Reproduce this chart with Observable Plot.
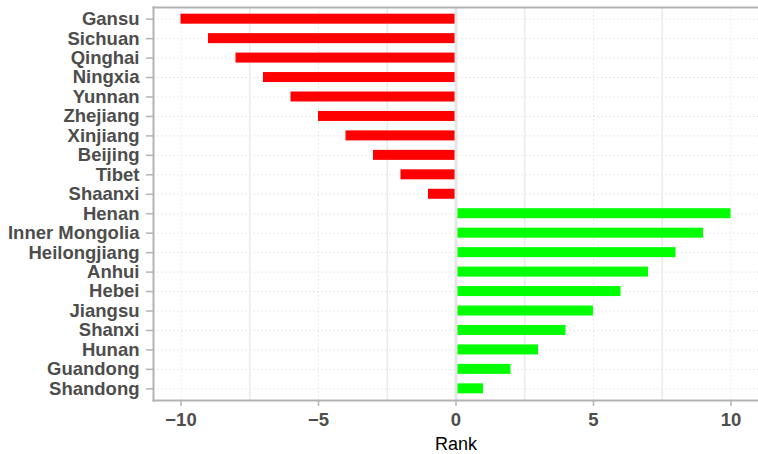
<!DOCTYPE html>
<html>
<head>
<meta charset="utf-8">
<script src="https://cdn.jsdelivr.net/npm/d3@7"></script>
<script src="https://cdn.jsdelivr.net/npm/@observablehq/plot@0.6"></script>
<style>
  html, body { margin: 0; padding: 0; background: #fff; overflow: hidden; }
  #chart svg { display: block; }
</style>
</head>
<body>
<div id="chart"></div>
<script>
const provinces = ["Gansu","Sichuan","Qinghai","Ningxia","Yunnan","Zhejiang","Xinjiang","Beijing","Tibet","Shaanxi",
  "Henan","Inner Mongolia","Heilongjiang","Anhui","Hebei","Jiangsu","Shanxi","Hunan","Guandong","Shandong"];
const ranks = [-10,-9,-8,-7,-6,-5,-4,-3,-2,-1,10,9,8,7,6,5,4,3,2,1];
const xTicks = [-10,-5,0,5,10];
const minorTicks = [-7.5,-2.5,2.5,7.5];

const data = provinces.map((p, i) => ({province: p, rank: ranks[i]}));

const font = "'Liberation Sans', Arial, Helvetica, sans-serif";
const border = "#b3b3b3";

const chart = Plot.plot({
  width: 758,
  height: 454,
  marginLeft: 153,
  marginRight: 0,
  marginTop: 7,
  marginBottom: 54,
  style: {fontFamily: font, background: "#fff"},
  x: {domain: [-11, 11], ticks: xTicks},
  y: {domain: provinces, paddingInner: 0.486, paddingOuter: 0.343, round: false},
  marks: [
    Plot.gridX(xTicks, {stroke: "#e3e3e3", strokeOpacity: 1, strokeDasharray: "1.5,2.5"}),
    Plot.gridY(provinces, {stroke: "#e3e3e3", strokeOpacity: 1, strokeDasharray: "1.5,2.5"}),
    Plot.ruleX(minorTicks, {stroke: "#ebebeb", strokeWidth: 1.6}),
    Plot.barX(data, {x1: 0, x2: "rank", y: "province", fill: d => d.rank < 0 ? "#ff0000" : "#00ff00"}),
    Plot.ruleX([0], {stroke: "#e6e6e6", strokeWidth: 3}),
    Plot.frame({anchor: "left", stroke: border, strokeWidth: 2}),
    Plot.frame({anchor: "top", stroke: border, strokeWidth: 2}),
    Plot.frame({anchor: "bottom", stroke: border, strokeWidth: 2}),
    Plot.axisY({
      tickSize: 7, tickPadding: 7, stroke: border, strokeWidth: 1.5,
      fill: "#4d4d4d", fontWeight: "bold", fontSize: 18.5, label: null
    }),
    Plot.axisX({
      ticks: xTicks, tickSize: 6, tickPadding: 6, stroke: border, strokeWidth: 1.5,
      fill: "#4d4d4d", fontWeight: "bold", fontSize: 18.5, label: null,
      tickFormat: d => d < 0 ? "\u2212" + Math.abs(d) : String(d)
    }),
    Plot.text(["Rank"], {frameAnchor: "bottom", dy: 49, fontSize: 18, fill: "#000", fontFamily: font})
  ]
});
document.getElementById("chart").appendChild(chart);
</script>
</body>
</html>
